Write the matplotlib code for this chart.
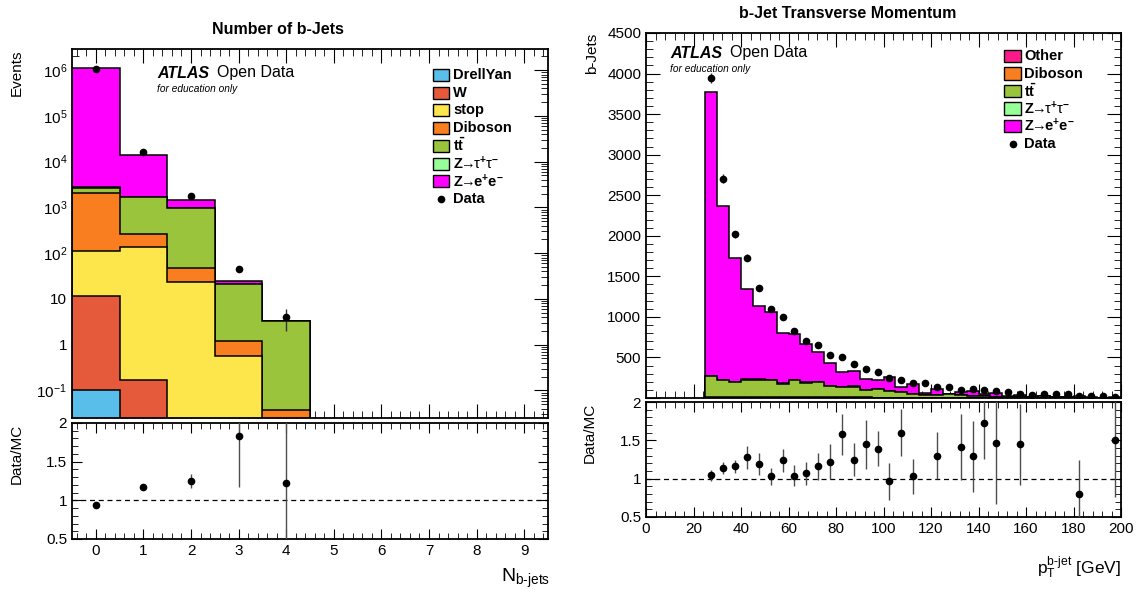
import matplotlib
matplotlib.use('Agg')
import matplotlib.pyplot as plt
import numpy as np
from matplotlib.patches import Rectangle
from matplotlib.lines import Line2D
from matplotlib.ticker import MultipleLocator, LogLocator, FixedLocator, FuncFormatter, NullFormatter

plt.rcParams['font.family'] = ['Liberation Sans', 'DejaVu Sans']
plt.rcParams['mathtext.fontset'] = 'custom'
plt.rcParams['mathtext.rm'] = 'Liberation Sans'
plt.rcParams['mathtext.it'] = 'Liberation Sans:italic'
plt.rcParams['mathtext.bf'] = 'Liberation Sans:bold'

# ---------------- left: number of b-jets ----------------
nb_bins = [0, 1, 2, 3, 4]
nb_drellyan = [0.1, 0, 0, 0, 0]
nb_w = [11.4, 0.17, 0, 0, 0]
nb_stop = [98.5, 134.8, 23, 0.58, 0]
nb_diboson = [1990, 125, 24, 0.62, 0.038]
nb_ttbar = [500, 1440, 913, 19.8, 3.26]
nb_ztautau = [200, 10, 5, 0.5, 0.01]
nb_zee = [1.097e6, 12290, 485, 3.5, 0.02]
nb_data = [1.045e6, 16400, 1810, 46, 4]
nb_ratio = [0.944, 1.167, 1.253, 1.83, 1.22]
nb_ratio_err = [0.01, 0.012, 0.09, 0.66, 1.0]

# ---------------- right: b-jet pT (bins of 5 GeV from 25) ----------------
pt_other = [3, 2, 2, 2, 2, 2, 2, 2, 1, 1, 1, 1, 1, 1, 1, 1, 1, 1, 0, 0,
            0, 0, 0, 0, 0, 0, 0, 0, 0, 0, 0, 0, 0, 0, 0]
pt_diboson = [14, 12, 11, 11, 10, 10, 9, 9, 8, 8, 7, 7, 6, 6, 5, 5, 4, 4, 3, 3,
              3, 2, 2, 2, 2, 1, 1, 1, 1, 1, 1, 1, 0, 0, 0]
pt_ttbar = [253, 202, 186, 215, 216, 212, 167, 213, 182, 190, 137, 129, 134, 93, 106, 77, 70, 49, 38, 38,
            43, 39, 27, 19, 15, 16, 11, 11, 20, 7, 7, 5, 5, 4, 4]
pt_ztautau = [4, 3, 3, 3, 2, 2, 2, 2, 2, 2, 1, 1, 1, 1, 1, 1, 1, 1, 1, 1,
              0, 0, 0, 0, 0, 0, 0, 0, 0, 0, 0, 0, 0, 0, 0]
pt_zee = [3500, 2153, 1527, 1117, 906, 840, 620, 558, 471, 367, 285, 177, 190, 139, 115, 171, 61, 122, 18, 63,
          4, 29, 61, 34, 45, 13, 25, 3, 1, 7, 2, 20, 3, 1, 7]
pt_data = [3948, 2704, 2020, 1729, 1356, 1099, 995, 821, 705, 655, 528, 500, 415, 352, 317, 245, 220, 182, 182, 137,
           135, 99, 116, 95, 91, 75, 54, 41, 50, 46, 46, 21, 21, 21, 17]
pt_ratio_x = [27.5, 32.5, 37.5, 42.5, 47.5, 52.5, 57.5, 62.5, 67.5, 72.5, 77.5, 82.5, 87.5, 92.5, 97.5,
              102.5, 107.5, 112.5, 122.5, 132.5, 137.5, 142.5, 147.5, 157.5, 182.5, 197.5]
pt_ratio = [1.043, 1.14, 1.16, 1.28, 1.19, 1.03, 1.24, 1.04, 1.07, 1.16, 1.22, 1.58, 1.25, 1.45, 1.39,
            0.965, 1.60, 1.03, 1.30, 1.41, 1.29, 1.73, 1.47, 1.45, 0.80, 1.51]
pt_ratio_err = [0.07, 0.08, 0.09, 0.15, 0.14, 0.11, 0.15, 0.14, 0.15, 0.18, 0.23, 0.27, 0.22, 0.32, 0.23,
                0.24, 0.31, 0.23, 0.31, 0.43, 0.46, 0.47, 0.8, 0.53, 0.45, 0.75]

c_drellyan = '#5ABEEB'
c_w = '#E55A3A'
c_stop = '#FDE64B'
c_diboson = '#F97E1F'
c_ttbar = '#9BC43D'
c_ztautau = '#97FF98'
c_zee = '#FF00FF'
c_other = '#FF1A8C'

W, H = 1142, 592
fig = plt.figure(figsize=(W / 100, H / 100), dpi=100)


def box(x0, y0, x1, y1):
    return [x0 / W, 1 - y1 / H, (x1 - x0) / W, (y1 - y0) / H]


def fx(px):
    return px / W


def fy(py):
    return 1 - py / H


def style(ax, maj, mnr):
    ax.tick_params(which='both', direction='in', top=True, right=True, labelsize=11)
    ax.tick_params(which='major', length=maj)
    ax.tick_params(which='minor', length=mnr)
    for s in ax.spines.values():
        s.set_linewidth(1.3)


def draw_stack(ax, edges, comps, colors, floor):
    cum = np.cumsum(np.array(comps, dtype=float), axis=0)
    for i in range(len(comps) - 1, -1, -1):
        vals = np.where(cum[i] > 0, cum[i], floor)
        ax.stairs(vals, edges, baseline=floor, fill=True, facecolor=colors[i],
                  edgecolor='black', linewidth=1.1, zorder=2 + (len(comps) - i) * 0.01)


# ---------- left main ----------
axl = fig.add_axes(box(72, 49, 548, 418))
nb_edges = np.append(np.array(nb_bins) - 0.5, nb_bins[-1] + 0.5)
draw_stack(axl, nb_edges,
           [nb_drellyan, nb_w, nb_stop, nb_diboson, nb_ttbar, nb_ztautau, nb_zee],
           [c_drellyan, c_w, c_stop, c_diboson, c_ttbar, c_ztautau, c_zee], 1e-3)
axl.errorbar(nb_bins, nb_data, yerr=np.sqrt(nb_data), fmt='o', color='black', ms=4.5,
             elinewidth=1.0, ecolor='0.2', capsize=0, zorder=5)
axl.set_yscale('log')
axl.set_ylim(0.025, 2.9e6)
axl.set_xlim(-0.5, 9.5)
axl.xaxis.set_major_locator(MultipleLocator(1))
axl.xaxis.set_minor_locator(MultipleLocator(0.2))
axl.xaxis.set_major_formatter(NullFormatter())
axl.yaxis.set_major_locator(FixedLocator([0.1, 1, 10, 1e2, 1e3, 1e4, 1e5, 1e6]))
axl.yaxis.set_minor_locator(LogLocator(base=10, subs=np.arange(2, 10), numticks=20))
axl.yaxis.set_minor_formatter(NullFormatter())


def logfmt(v, pos):
    e = int(round(np.log10(v)))
    if e == 0:
        return '1'
    if e == 1:
        return '10'
    return r'$\mathregular{10^{%d}}$' % e


axl.yaxis.set_major_formatter(FuncFormatter(logfmt))
style(axl, 10, 5)

# ---------- left ratio ----------
axlr = fig.add_axes(box(72, 423, 548, 539))
axlr.errorbar(nb_bins, nb_ratio, yerr=nb_ratio_err, fmt='o', color='black', ms=4.5,
              elinewidth=1.0, ecolor='0.3', capsize=0, zorder=5)
axlr.axhline(1, color='black', lw=0.9, ls=(0, (4, 3)))
axlr.set_xlim(-0.5, 9.5)
axlr.set_ylim(0.5, 2)
axlr.xaxis.set_major_locator(MultipleLocator(1))
axlr.xaxis.set_minor_locator(MultipleLocator(0.2))
axlr.yaxis.set_major_locator(FixedLocator([0.5, 1, 1.5, 2]))
axlr.yaxis.set_minor_locator(MultipleLocator(0.1))
axlr.yaxis.set_major_formatter(FuncFormatter(lambda v, p: '%g' % v))
style(axlr, 7, 4)

# ---------- right main ----------
axr = fig.add_axes(box(646, 33, 1121, 398))
pt_edges = np.arange(25, 205, 5)
draw_stack(axr, pt_edges,
           [pt_other, pt_diboson, pt_ttbar, pt_ztautau, pt_zee],
           [c_other, c_diboson, c_ttbar, c_ztautau, c_zee], 0)
pt_centers = pt_edges[:-1] + 2.5
axr.errorbar(pt_centers, pt_data, yerr=np.sqrt(pt_data), fmt='o', color='black', ms=4.5,
             elinewidth=1.0, ecolor='0.2', capsize=0, zorder=5)
axr.set_xlim(0, 200)
axr.set_ylim(0, 4500)
axr.xaxis.set_major_locator(MultipleLocator(20))
axr.xaxis.set_minor_locator(MultipleLocator(4))
axr.xaxis.set_major_formatter(NullFormatter())
axr.yaxis.set_major_locator(MultipleLocator(500))
axr.yaxis.set_minor_locator(MultipleLocator(100))
axr.yaxis.set_major_formatter(FuncFormatter(lambda v, p: '' if v == 0 else '%d' % v))
style(axr, 10, 5)

# ---------- right ratio ----------
axrr = fig.add_axes(box(646, 402, 1121, 517))
axrr.errorbar(pt_ratio_x, pt_ratio, yerr=pt_ratio_err, fmt='o', color='black', ms=4.5,
              elinewidth=1.0, ecolor='0.3', capsize=0, zorder=5)
axrr.axhline(1, color='black', lw=0.9, ls=(0, (4, 3)))
axrr.set_xlim(0, 200)
axrr.set_ylim(0.5, 2)
axrr.xaxis.set_major_locator(MultipleLocator(20))
axrr.xaxis.set_minor_locator(MultipleLocator(4))
axrr.yaxis.set_major_locator(FixedLocator([0.5, 1, 1.5, 2]))
axrr.yaxis.set_minor_locator(MultipleLocator(0.1))
axrr.yaxis.set_major_formatter(FuncFormatter(lambda v, p: '%g' % v))
style(axrr, 7, 4)

# ---------- titles and axis labels ----------
fig.text(fx(278), fy(30), 'Number of b-Jets', ha='center', va='center', fontsize=11.5, fontweight='bold')
fig.text(fx(848), fy(14), 'b-Jet Transverse Momentum', ha='center', va='center', fontsize=11.5, fontweight='bold')
fig.text(fx(17), fy(50), 'Events', rotation=90, ha='center', va='top', fontsize=11)
fig.text(fx(17), fy(424), 'Data/MC', rotation=90, ha='center', va='top', fontsize=11)
fig.text(fx(592), fy(33), 'b-Jets', rotation=90, ha='center', va='top', fontsize=11)
fig.text(fx(590), fy(403), 'Data/MC', rotation=90, ha='center', va='top', fontsize=11)
fig.text(fx(550), fy(582), r'$\mathregular{N_{b\text{-}jets}}$', ha='right', va='baseline', fontsize=14)
fig.text(fx(1121), fy(574), r'$\mathregular{p_{T}^{b\text{-}jet}}$ [GeV]', ha='right', va='baseline', fontsize=12.5)

# ATLAS labels
for x0, y0 in [(157, 73), (670, 53)]:
    fig.text(fx(x0), fy(y0), 'ATLAS', fontsize=11.5, fontweight='bold', style='italic', va='center')
    fig.text(fx(x0 + 60), fy(y0), 'Open Data', fontsize=11.5, va='center')
    fig.text(fx(x0), fy(y0 + 16), 'for education only', fontsize=7.3, style='italic', va='center')


# ---------- legends ----------
def legend(entries, bx0, bx1, tx, y0, dy, bh):
    for i, (lab, col) in enumerate(entries):
        yc = y0 + i * dy
        if col is None:
            fig.add_artist(Line2D([fx((bx0 + bx1) / 2)], [fy(yc)], marker='o', color='black', ms=4.5,
                                  transform=fig.transFigure))
        else:
            fig.add_artist(Rectangle((fx(bx0), fy(yc + bh / 2)), (bx1 - bx0) / W, bh / H,
                                     facecolor=col, edgecolor='black', lw=1.0, transform=fig.transFigure))
        fig.text(fx(tx), fy(yc), lab, fontsize=10.5, fontweight='bold', va='center')


lab_tt = r'$\mathbf{t\bar{t}}$'
lab_ztt = r'$\mathbf{Z}\!\!\rightarrow\!\!\mathrm{\tau}^{\mathbf{+}}\mathrm{\tau}^{\mathbf{-}}$'
lab_zee = r'$\mathbf{Z}\!\!\rightarrow\!\!\mathbf{e^{+}e^{-}}$'
legend([('DrellYan', c_drellyan), ('W', c_w), ('stop', c_stop), ('Diboson', c_diboson),
        (lab_tt, c_ttbar), (lab_ztt, c_ztautau), (lab_zee, c_zee), ('Data', None)],
       433, 449, 453, 75, 17.7, 12)
legend([('Other', c_other), ('Diboson', c_diboson), (lab_tt, c_ttbar), (lab_ztt, c_ztautau),
        (lab_zee, c_zee), ('Data', None)],
       1004, 1021, 1024, 56, 17.5, 12)

fig.savefig('out.png', dpi=100)
